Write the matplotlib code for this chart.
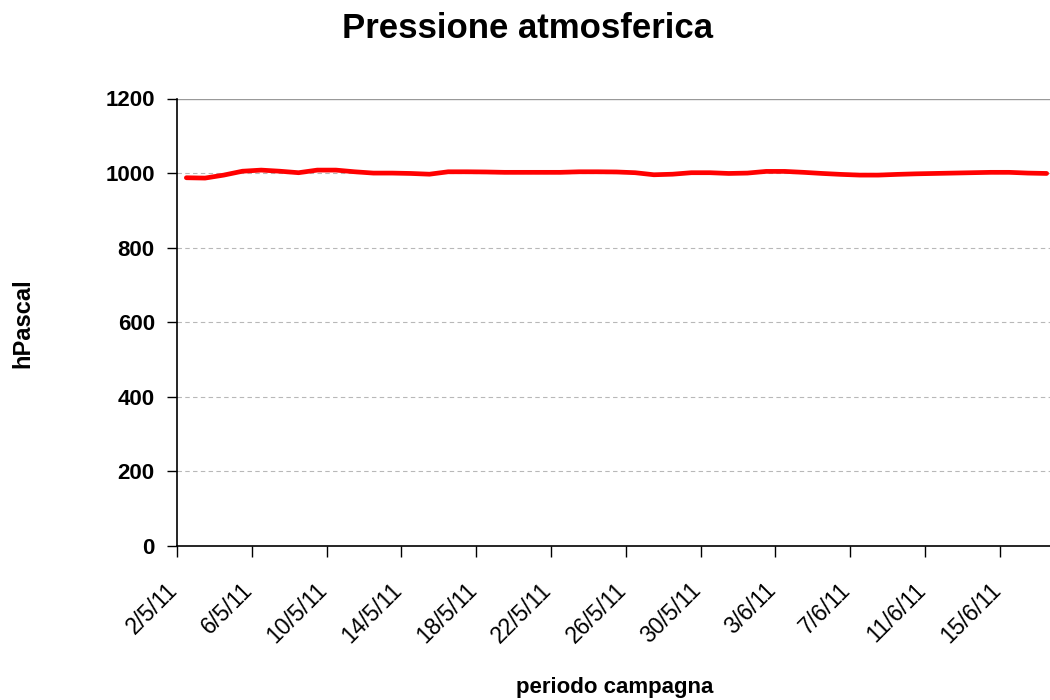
import matplotlib
matplotlib.use("Agg")
import matplotlib.pyplot as plt
import numpy as np

plt.rcParams['font.family'] = ['Liberation Sans', 'DejaVu Sans']

# Daily atmospheric pressure readings, 2 May - 17 June 2011 (hPa)
days = ["2/5/11", "3/5/11", "4/5/11", "5/5/11", "6/5/11", "7/5/11", "8/5/11",
        "9/5/11", "10/5/11", "11/5/11", "12/5/11", "13/5/11", "14/5/11", "15/5/11",
        "16/5/11", "17/5/11", "18/5/11", "19/5/11", "20/5/11", "21/5/11", "22/5/11",
        "23/5/11", "24/5/11", "25/5/11", "26/5/11", "27/5/11", "28/5/11", "29/5/11",
        "30/5/11", "31/5/11", "1/6/11", "2/6/11", "3/6/11", "4/6/11", "5/6/11",
        "6/6/11", "7/6/11", "8/6/11", "9/6/11", "10/6/11", "11/6/11", "12/6/11",
        "13/6/11", "14/6/11", "15/6/11", "16/6/11", "17/6/11"]
pressure = [987.5, 986.6, 994.6, 1005, 1008, 1005, 1001, 1008, 1008, 1003.5,
            1000, 1000, 999, 997, 1003.5, 1003.5, 1003, 1002, 1002, 1002,
            1002, 1003.5, 1003.5, 1003, 1001, 995.5, 997, 1001, 1001, 999,
            1000, 1004.5, 1004.5, 1002, 999, 996.5, 994.6, 994.6, 996.5, 998,
            999, 1000, 1001, 1002, 1002, 1000, 999]
y_ticks = [0, 200, 400, 600, 800, 1000, 1200]

W, H = 1050, 700
fig = plt.figure(figsize=(W / 100, H / 100), dpi=100)
ax_left, ax_right, ax_bottom, ax_top = 177, 1056, 546, 98.5
ax = fig.add_axes([ax_left / W, 1 - ax_bottom / H,
                   (ax_right - ax_left) / W, (ax_bottom - ax_top) / H])

n = len(pressure)
x = np.arange(n) + 0.5
ax.plot(x, pressure, color='#ff0000', lw=3.4, solid_joinstyle='round',
        solid_capstyle='round', zorder=3, clip_on=False)

ax.set_xlim(0, n)
ax.set_ylim(0, 1200)

# horizontal gridlines
for v in y_ticks[1:-1]:
    ax.axhline(v, color='#b8b8b8', lw=0.8, ls=(0, (4, 3)), zorder=1)
ax.axhline(1200, color='#999999', lw=1.0, zorder=1)

ax.set_yticks(y_ticks)
ax.set_yticklabels([str(v) for v in y_ticks], fontsize=16, fontweight='bold')

# category ticks every 4 days, labels rotated and ending at the tick
tick_pos = np.arange(0, n, 4)
ax.set_xticks(tick_pos)
ax.set_xticklabels([])
for t in tick_pos:
    ax.annotate(days[t], xy=(t, 0), xycoords=('data', 'axes fraction'),
                xytext=(-11, -32.5), textcoords='offset pixels',
                fontsize=16.5, rotation=45, ha='right', va='top',
                rotation_mode='anchor', annotation_clip=False)

ax.tick_params(axis='y', direction='out', length=7, width=1, pad=9)
ax.tick_params(axis='x', direction='out', length=8, width=1)

for s in ('top', 'right'):
    ax.spines[s].set_visible(False)
for s in ('left', 'bottom'):
    ax.spines[s].set_linewidth(1.2)
    ax.spines[s].set_color('black')

fig.text(528 / W, 1 - 29 / H, "Pressione atmosferica", fontsize=25,
         fontweight='bold', ha='center', va='center')
fig.text(615 / W, 1 - 687 / H, "periodo campagna", fontsize=16,
         fontweight='bold', ha='center', va='center')
fig.text(23 / W, 1 - 323 / H, "hPascal", fontsize=17, fontweight='bold',
         ha='center', va='center', rotation=90)

fig.savefig("out.png", dpi=100)
